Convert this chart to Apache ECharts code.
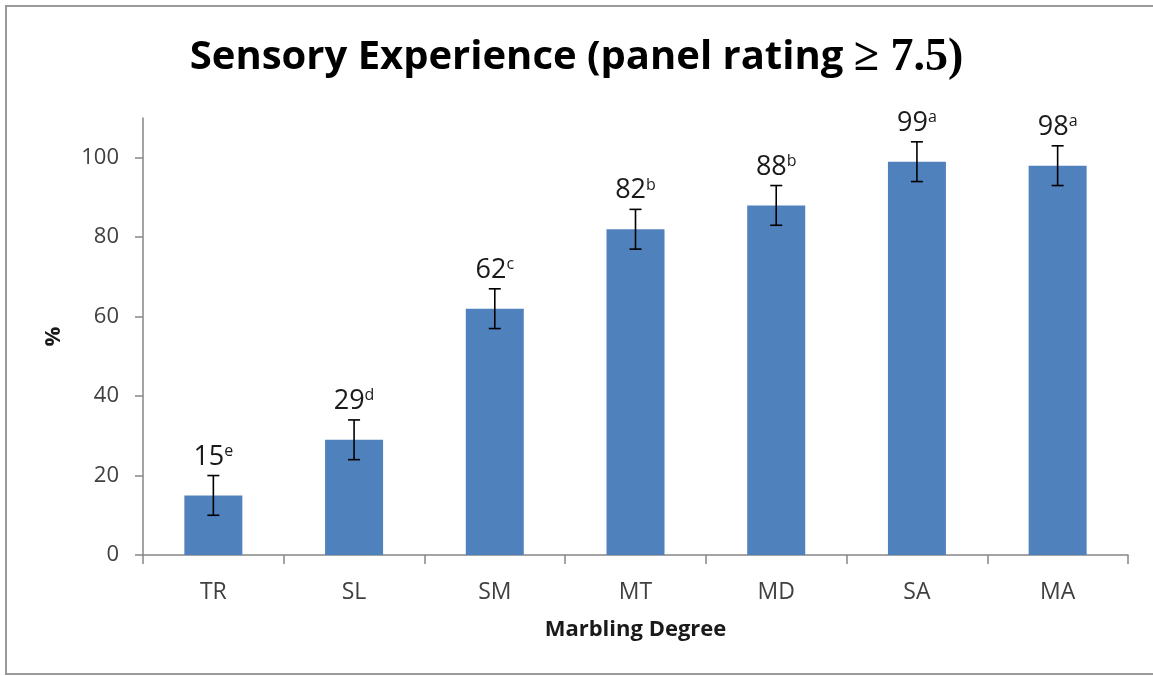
<!DOCTYPE html>
<html>
<head>
<meta charset="utf-8">
<script src="https://cdn.jsdelivr.net/npm/echarts@6/dist/echarts.min.js"></script>
<style>
  html, body { margin: 0; padding: 0; background: #ffffff; }
  #chart { width: 1153px; height: 676px; }
</style>
</head>
<body>
<div id="chart"></div>
<script>
const categories = ['TR', 'SL', 'SM', 'MT', 'MD', 'SA', 'MA'];
const values = [15, 29, 62, 82, 88, 99, 98];
const errors = [5, 5, 5, 5, 5, 5, 5];
const letters = ['e', 'd', 'c', 'b', 'b', 'a', 'a'];
const yTicks = [0, 20, 40, 60, 80, 100];

const chart = echarts.init(document.getElementById('chart'), null, { renderer: 'canvas' });

const errData = values.map((v, i) => [i, v, errors[i]]);

const option = {
  backgroundColor: '#ffffff',
  animation: false,
  title: {
    left: 'center',
    top: 30,
    text: '{a|Sensory Experience (panel rating }{b|≥ 7.5)}',
    textStyle: {
      rich: {
        a: { fontFamily: 'Open Sans', fontWeight: 'bold', fontSize: 40, color: '#000000' },
        b: { fontFamily: 'Liberation Serif', fontWeight: 'bold', fontSize: 46, color: '#000000' }
      }
    }
  },
  graphic: [{
    type: 'rect',
    shape: { x: 6, y: 6, width: 1200, height: 668 },
    style: { fill: null, stroke: '#9a9a9a', lineWidth: 2 },
    silent: true
  }],
  grid: { left: 143, right: 25, top: 118, bottom: 121, containLabel: false },
  xAxis: {
    type: 'category',
    data: categories,
    name: 'Marbling Degree',
    nameLocation: 'middle',
    nameGap: 64,
    nameTextStyle: { fontFamily: 'Open Sans', fontWeight: 'bold', fontSize: 22, color: '#1a1a1a' },
    axisLine: { lineStyle: { color: '#868686', width: 1.5 } },
    axisTick: { show: true, length: 9, lineStyle: { color: '#868686', width: 1.5 } },
    axisLabel: { margin: 26, fontFamily: 'Open Sans', fontSize: 23, color: '#404040' },
    splitLine: { show: false }
  },
  yAxis: {
    type: 'value',
    min: 0,
    max: 110,
    interval: 20,
    name: '%',
    nameLocation: 'middle',
    nameRotate: 90,
    nameGap: 78,
    nameTextStyle: { fontFamily: 'Open Sans', fontWeight: 'bold', fontSize: 22, color: '#1a1a1a' },
    axisLine: { show: true, lineStyle: { color: '#868686', width: 1.5 } },
    axisTick: { show: true, length: 8, customValues: yTicks, lineStyle: { color: '#868686', width: 1.5 } },
    axisLabel: { margin: 24, fontFamily: 'Open Sans', fontSize: 22, color: '#404040', customValues: yTicks },
    splitLine: { show: false }
  },
  series: [
    {
      type: 'bar',
      data: values,
      barWidth: 58,
      itemStyle: { color: '#4F81BD' },
      label: {
        show: true,
        position: 'top',
        distance: 25,
        formatter: p => '{v|' + values[p.dataIndex] + '}{s|' + letters[p.dataIndex] + '}',
        rich: {
          v: { fontFamily: 'Open Sans', fontSize: 27, color: '#1a1a1a' },
          s: { fontFamily: 'Open Sans', fontSize: 16, color: '#1a1a1a', verticalAlign: 'top' }
        }
      },
      z: 2
    },
    {
      type: 'custom',
      data: errData,
      encode: { x: 0, y: 1 },
      z: 5,
      silent: true,
      renderItem: function (params, api) {
        const i = api.value(0);
        const v = api.value(1);
        const e = api.value(2);
        const hi = api.coord([i, v + e]);
        const lo = api.coord([i, v - e]);
        const cap = 6;
        const style = { stroke: '#000000', lineWidth: 1.6 };
        return {
          type: 'group',
          children: [
            { type: 'line', shape: { x1: hi[0], y1: hi[1], x2: lo[0], y2: lo[1] }, style: style },
            { type: 'line', shape: { x1: hi[0] - cap, y1: hi[1], x2: hi[0] + cap, y2: hi[1] }, style: style },
            { type: 'line', shape: { x1: lo[0] - cap, y1: lo[1], x2: lo[0] + cap, y2: lo[1] }, style: style }
          ]
        };
      }
    }
  ]
};

chart.setOption(option);
</script>
</body>
</html>
